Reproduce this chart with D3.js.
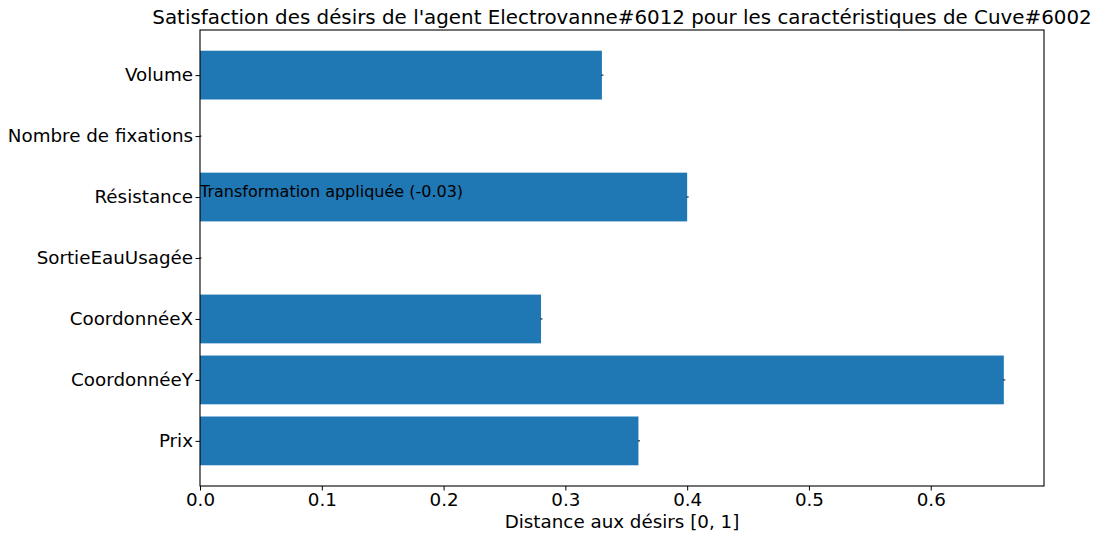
<!DOCTYPE html>
<html>
<head>
<meta charset="utf-8">
<script src="https://cdn.jsdelivr.net/npm/d3@7"></script>
<style>
  body { margin: 0; background: #fff; }
  svg { display: block; font-family: "DejaVu Sans", sans-serif; }
</style>
</head>
<body>
<svg id="chart" width="1097" height="533"></svg>
<script>
// Characteristics, top to bottom
const categories = ["Volume", "Nombre de fixations", "Résistance", "SortieEauUsagée", "CoordonnéeX", "CoordonnéeY", "Prix"];
// Distance to desires for each characteristic
const distances = [0.33, 0, 0.40, 0, 0.28, 0.66, 0.36];
const xTicks = [0, 0.1, 0.2, 0.3, 0.4, 0.5, 0.6];
const title = "Satisfaction des désirs de l'agent Electrovanne#6012 pour les caractéristiques de Cuve#6002";
const xLabel = "Distance aux désirs [0, 1]";
const annotation = { category: "Résistance", text: "Transformation appliquée (-0.03)" };

const svg = d3.select("#chart");
const margin = { left: 200, right: 1097 - 1044, top: 30, bottom: 533 - 486 };
const W = 1097 - margin.left - margin.right;
const H = 533 - margin.top - margin.bottom;
const g = svg.append("g").attr("transform", `translate(${margin.left},${margin.top})`);

const xMax = d3.max(distances) * 1.05;
const x = d3.scaleLinear().domain([0, xMax]).range([0, W]);

// index positions with 0.4 half-height bars and 5% padding
const n = categories.length;
const lo = -0.4, hi = n - 1 + 0.4, pad = (hi - lo) * 0.05;
const yIdx = d3.scaleLinear().domain([lo - pad, hi + pad]).range([0, H]);
const bandH = yIdx(0.4) - yIdx(-0.4);

const blue = "#1f77b4";
const labelSize = 18.3;

g.selectAll("rect.bar")
  .data(distances)
  .join("rect")
  .attr("class", "bar")
  .attr("x", 0)
  .attr("y", (d, i) => yIdx(i - 0.4))
  .attr("width", d => x(d))
  .attr("height", bandH)
  .attr("fill", blue);

// zero-width error bars at bar ends
g.selectAll("line.err")
  .data(distances)
  .join("line")
  .attr("class", "err")
  .attr("x1", d => x(d) - 0.5)
  .attr("x2", d => x(d) + 1.5)
  .attr("y1", (d, i) => yIdx(i))
  .attr("y2", (d, i) => yIdx(i))
  .attr("stroke", "#000")
  .attr("stroke-width", 1);

// annotation
const ai = categories.indexOf(annotation.category);
g.append("text")
  .attr("x", x(0))
  .attr("y", yIdx(ai))
  .attr("font-size", 16)
  .attr("fill", "#000")
  .text(annotation.text);

// x axis
const xAxis = d3.axisBottom(x).tickValues(xTicks).tickFormat(d3.format(".1f")).tickSize(4.5).tickPadding(2.5);
const gx = g.append("g").attr("transform", `translate(0,${H})`).call(xAxis);
gx.select(".domain").remove();
gx.selectAll("text").attr("font-size", labelSize).attr("fill", "#000").attr("font-family", "DejaVu Sans");
gx.selectAll("line").attr("stroke", "#000");

// y axis
const yTickScale = d3.scaleOrdinal().domain(categories).range(categories.map((c, i) => yIdx(i)));
const yAxis = d3.axisLeft(yTickScale).tickSize(4.5).tickPadding(2.5);
const gy = g.append("g").call(yAxis);
gy.select(".domain").remove();
gy.selectAll("text").attr("font-size", labelSize).attr("fill", "#000").attr("font-family", "DejaVu Sans");
gy.selectAll("line").attr("stroke", "#000");

// frame
g.append("rect")
  .attr("x", 0).attr("y", 0).attr("width", W).attr("height", H)
  .attr("fill", "none").attr("stroke", "#000").attr("stroke-width", 1.1);

// titles
svg.append("text")
  .attr("x", margin.left + W / 2)
  .attr("y", 24)
  .attr("text-anchor", "middle")
  .attr("font-size", 19.85)
  .attr("fill", "#000")
  .text(title);

svg.append("text")
  .attr("x", margin.left + W / 2)
  .attr("y", 527.5)
  .attr("text-anchor", "middle")
  .attr("font-size", labelSize)
  .attr("fill", "#000")
  .text(xLabel);
</script>
</body>
</html>
